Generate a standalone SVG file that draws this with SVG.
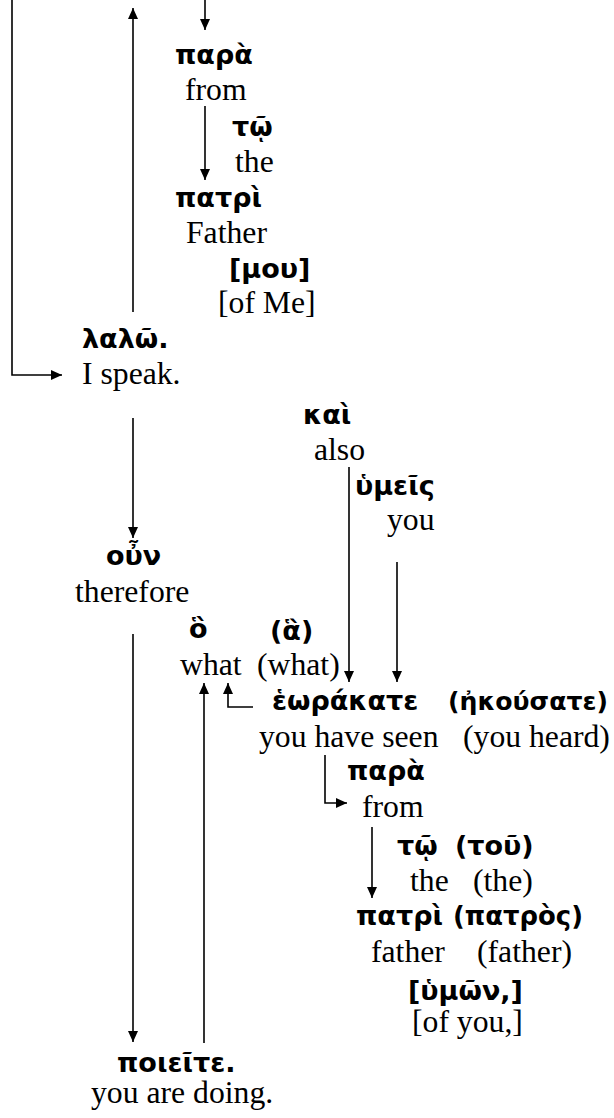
<svg xmlns="http://www.w3.org/2000/svg" width="614" height="1118" viewBox="0 0 614 1118">
<style>
.g{font-family:"DejaVu Sans",sans-serif;font-weight:bold;font-size:27px;fill:#000}
.e{font-family:"Liberation Serif",serif;font-size:31.7px;fill:#000}
.c{fill:none;stroke:#000;stroke-width:1.6}
</style>
<defs>
<marker id="ah" markerUnits="userSpaceOnUse" markerWidth="12" markerHeight="10" refX="11" refY="5" orient="auto">
<path d="M0,0 L11,5 L0,10 Z" fill="#000"/>
</marker>
</defs>
<rect width="614" height="1118" fill="#fff"/>
<g id="connectors">
<path class="c" d="M12,0 V375 H62" marker-end="url(#ah)"/>
<path class="c" d="M133,312 V8" marker-end="url(#ah)"/>
<path class="c" d="M205,0 V30" marker-end="url(#ah)"/>
<path class="c" d="M205,106 V180" marker-end="url(#ah)"/>
<path class="c" d="M133,418 V538" marker-end="url(#ah)"/>
<path class="c" d="M349,467 V682" marker-end="url(#ah)"/>
<path class="c" d="M397,562 V682" marker-end="url(#ah)"/>
<path class="c" d="M253,707 H228 V683" marker-end="url(#ah)"/>
<path class="c" d="M204,1043 V683" marker-end="url(#ah)"/>
<path class="c" d="M133,634 V1042" marker-end="url(#ah)"/>
<path class="c" d="M325,755 V803 H347" marker-end="url(#ah)"/>
<path class="c" d="M372,827 V898" marker-end="url(#ah)"/>
</g>
<g id="n-para1"><text class="g" x="175" y="64">παρὰ</text><text class="e" x="185" y="100">from</text></g>
<g id="n-to1"><text class="g" x="232" y="136">τῷ</text><text class="e" x="235" y="172">the</text></g>
<g id="n-patri1"><text class="g" x="175" y="207">πατρὶ</text><text class="e" x="186" y="243">Father</text></g>
<g id="n-mou"><text class="g" x="229" y="278">[μου]</text><text class="e" x="218" y="313">[of Me]</text></g>
<g id="n-lalo"><text class="g" x="82" y="348">λαλῶ.</text><text class="e" x="82" y="384">I speak.</text></g>
<g id="n-kai"><text class="g" x="303" y="424">καὶ</text><text class="e" x="314" y="460">also</text></g>
<g id="n-hymeis"><text class="g" x="355" y="495">ὑμεῖς</text><text class="e" x="387" y="530">you</text></g>
<g id="n-oun"><text class="g" x="106" y="565">οὖν</text><text class="e" x="75" y="602">therefore</text></g>
<g id="n-ho"><text class="g" x="189" y="638">ὃ</text><text class="g" x="270" y="640">(ἃ)</text><text class="e" x="180" y="675">what</text><text class="e" x="257" y="675">(what)</text></g>
<g id="n-heorakate"><text class="g" x="272" y="710">ἑωράκατε</text><text class="g" x="448" y="710" style="font-size:25.5px" textLength="160" lengthAdjust="spacingAndGlyphs">(ἠκούσατε)</text><text class="e" x="259" y="747">you have seen</text><text class="e" x="463" y="747">(you heard)</text></g>
<g id="n-para2"><text class="g" x="347" y="780">παρὰ</text><text class="e" x="362" y="817">from</text></g>
<g id="n-to2"><text class="g" x="397" y="855">τῷ</text><text class="g" x="455" y="855">(τοῦ)</text><text class="e" x="410" y="891">the</text><text class="e" x="473" y="891">(the)</text></g>
<g id="n-patri2"><text class="g" x="356" y="925">πατρὶ</text><text class="g" x="453" y="925" textLength="130" lengthAdjust="spacingAndGlyphs">(πατρὸς)</text><text class="e" x="371" y="962">father</text><text class="e" x="477" y="962">(father)</text></g>
<g id="n-hymon"><text class="g" x="408" y="1000">[ὑμῶν,]</text><text class="e" x="412" y="1032">[of you,]</text></g>
<g id="n-poieite"><text class="g" x="117" y="1072">ποιεῖτε.</text><text class="e" x="91" y="1103">you are doing.</text></g>
</svg>
